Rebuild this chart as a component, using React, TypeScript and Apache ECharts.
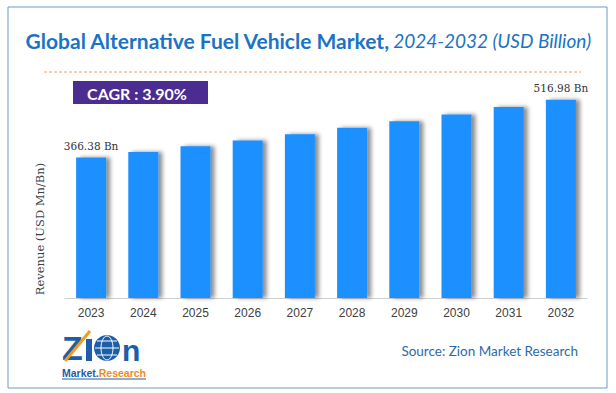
import React, { useEffect, useRef } from "react";
import * as echarts from "echarts";

const years = ["2023", "2024", "2025", "2026", "2027", "2028", "2029", "2030", "2031", "2032"];
const revenue = [366.38, 381, 396, 411, 427, 444, 461, 479, 498, 516.98];
const cagrText = "CAGR : 3.90%";
const titleMain = "Global Alternative Fuel Vehicle Market,";
const titleSub = "2024-2032 (USD Billion)";
const yName = "Revenue (USD Mn/Bn)";
const sourceText = "Source: Zion Market Research";

export default function App() {
  const ref = useRef<HTMLDivElement>(null);
  useEffect(() => {
    if (!ref.current) return;
    const chart = echarts.init(ref.current, null, { renderer: "svg" });
    const last = revenue.length - 1;
    chart.setOption({
      animation: false,
      backgroundColor: "#ffffff",
      grid: { left: 65, right: 29, top: 68, bottom: 95 },
      xAxis: {
        type: "category",
        data: years,
        axisLine: { lineStyle: { color: "#d0d0d0", width: 1 } },
        axisTick: { show: false },
        axisLabel: { color: "#404040", fontFamily: "Liberation Sans", fontSize: 12, margin: 9 },
      },
      yAxis: {
        type: "value",
        min: 0,
        max: 600,
        show: false,
        splitLine: { show: false },
      },
      series: [
        {
          type: "bar",
          data: revenue,
          barWidth: 30,
          itemStyle: {
            color: "#1e90ff",
            shadowColor: "rgba(0,0,0,0.45)",
            shadowBlur: 4,
            shadowOffsetX: 4,
            shadowOffsetY: 0,
          },
          label: {
            show: true,
            position: "top",
            distance: 6,
            color: "#333333",
            fontFamily: "DejaVu Serif",
            fontSize: 10.5,
            formatter: (p: any) =>
              p.dataIndex === 0 || p.dataIndex === last ? `${p.value} Bn` : "",
          },
        },
      ],
      graphic: [
        {
          type: "rect",
          shape: { x: 8, y: 7, width: 599, height: 381 },
          style: { fill: "none", stroke: "#6b9bc8", lineWidth: 1 },
          silent: true,
        },
        {
          type: "text",
          x: 308,
          y: 40,
          style: {
            text: `{a|${titleMain}} {b|${titleSub}}`,
            align: "center",
            verticalAlign: "middle",
            rich: {
              a: { fontFamily: "Lato", fontWeight: "bold", fontSize: 21, fill: "#1a73c4" },
              b: { fontFamily: "Lato", fontStyle: "italic", fontSize: 19, fill: "#1a73c4" },
            },
          },
        },
        {
          type: "line",
          shape: { x1: 44, y1: 72, x2: 581, y2: 72 },
          style: { stroke: "#f0a060", lineWidth: 1, lineDash: [3, 2] },
        },
        {
          type: "rect",
          shape: { x: 73, y: 81, width: 135, height: 23 },
          style: { fill: "#4b2c91" },
        },
        {
          type: "text",
          x: 137,
          y: 93,
          style: {
            text: cagrText,
            align: "center",
            verticalAlign: "middle",
            fontFamily: "Lato",
            fontWeight: "bold",
            fontSize: 16,
            fill: "#ffffff",
          },
        },
        {
          type: "text",
          x: 40,
          y: 229,
          rotation: Math.PI / 2,
          style: {
            text: yName,
            align: "center",
            verticalAlign: "middle",
            fontFamily: "DejaVu Serif",
            fontSize: 11.5,
            fill: "#404040",
          },
        },
        {
          type: "text",
          x: 578,
          y: 351,
          style: {
            text: sourceText,
            align: "right",
            verticalAlign: "middle",
            fontFamily: "Lato",
            fontSize: 13.5,
            fill: "#2e6aa8",
          },
        },
        // logo
        {
          type: "group",
          children: [
            {
              type: "text",
              x: 62,
              y: 348,
              style: {
                text: "Z",
                verticalAlign: "middle",
                fontFamily: "Liberation Sans",
                fontWeight: "bold",
                fontSize: 34,
                lineHeight: 28,
                fill: "#1d5ea8",
              },
            },
            {
              type: "line",
              shape: { x1: 65, y1: 361, x2: 90, y2: 331 },
              style: { stroke: "#f39a1e", lineWidth: 3 },
            },
            {
              type: "rect",
              shape: { x: 86, y: 339, width: 6, height: 22 },
              style: { fill: "#1d5ea8" },
            },
            {
              type: "circle",
              shape: { cx: 107, cy: 348, r: 13 },
              style: { fill: "#1d5ea8" },
            },
            {
              type: "ellipse",
              shape: { cx: 107, cy: 348, rx: 6, ry: 12 },
              style: { fill: "none", stroke: "#ffffff", lineWidth: 1 },
            },
            {
              type: "line",
              shape: { x1: 95, y1: 348, x2: 119, y2: 348 },
              style: { stroke: "#ffffff", lineWidth: 1 },
            },
            {
              type: "line",
              shape: { x1: 97, y1: 341, x2: 117, y2: 341 },
              style: { stroke: "#ffffff", lineWidth: 1 },
            },
            {
              type: "line",
              shape: { x1: 97, y1: 355, x2: 117, y2: 355 },
              style: { stroke: "#ffffff", lineWidth: 1 },
            },
            {
              type: "text",
              x: 122,
              y: 350,
              style: {
                text: "n",
                verticalAlign: "middle",
                fontFamily: "Liberation Sans",
                fontWeight: "bold",
                fontSize: 30,
                lineHeight: 22,
                fill: "#1d5ea8",
              },
            },
            {
              type: "text",
              x: 62,
              y: 373,
              style: {
                text: "{m|Market.}{r|Research}",
                verticalAlign: "middle",
                rich: {
                  m: { fontFamily: "Liberation Sans", fontWeight: "bold", fontSize: 10.5, lineHeight: 11, fill: "#1d5ea8" },
                  r: { fontFamily: "Liberation Sans", fontWeight: "bold", fontSize: 10.5, lineHeight: 11, fill: "#f08a1e" },
                },
              },
            },
            {
              type: "line",
              shape: { x1: 62, y1: 379, x2: 146, y2: 379 },
              style: { stroke: "#1d5ea8", lineWidth: 1 },
            },
          ],
        },
      ],
    });
    return () => chart.dispose();
  }, []);
  return (
    <div
      ref={ref}
      style={{ position: "fixed", left: 0, top: 0, width: 616, height: 393 }}
    />
  );
}
